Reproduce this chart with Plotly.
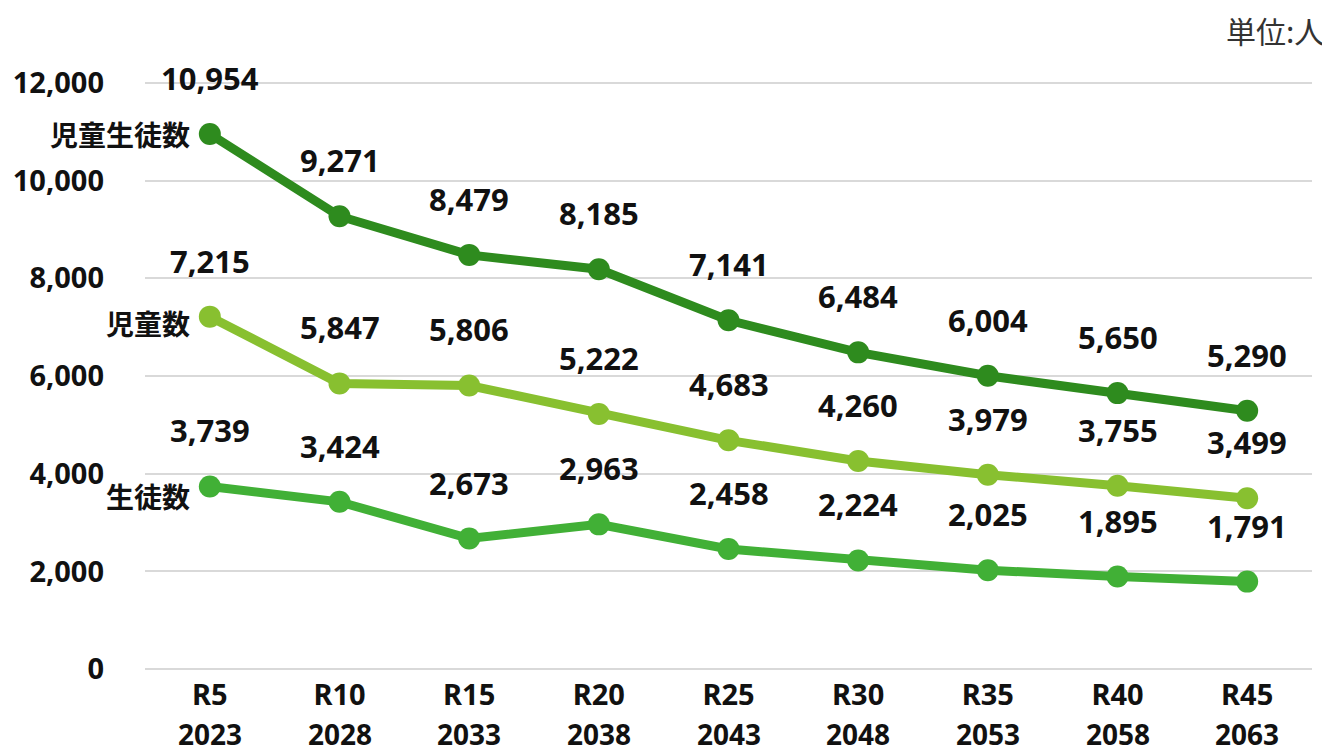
import plotly.graph_objects as go

categories = ["R5", "R10", "R15", "R20", "R25", "R30", "R35", "R40", "R45"]
years = ["2023", "2028", "2033", "2038", "2043", "2048", "2053", "2058", "2063"]
total = [10954, 9271, 8479, 8185, 7141, 6484, 6004, 5650, 5290]
children = [7215, 5847, 5806, 5222, 4683, 4260, 3979, 3755, 3499]
students = [3739, 3424, 2673, 2963, 2458, 2224, 2025, 1895, 1791]
series_names = ["児童生徒数", "児童数", "生徒数"]
colors = ["#2e8b1e", "#88c030", "#41b036"]
yticks = [0, 2000, 4000, 6000, 8000, 10000, 12000]

fig = go.Figure()
num_font = "Noto Sans, DejaVu Sans, sans-serif"
jp_font = "Noto Sans CJK JP, Noto Sans, sans-serif"

annotations = []
for name, vals, col, nshift in zip(series_names, [total, children, students], colors, [0, -6, -10]):
    fig.add_trace(go.Scatter(
        x=categories, y=vals, mode="lines+markers", name=name,
        line=dict(color=col, width=9),
        marker=dict(color=col, size=22),
        hoverinfo="x+y",
    ))
    for c, v in zip(categories, vals):
        annotations.append(dict(
            x=c, y=v, text=f"{v:,}", showarrow=False, yshift=56,
            font=dict(family=num_font, size=31, color="#111111", weight="bold"),
        ))
    annotations.append(dict(
        x=categories[0], y=vals[0], text=name, showarrow=False,
        xanchor="right", xshift=-18, yshift=nshift,
        font=dict(family=jp_font, size=28, color="#111111", weight="bold"),
    ))

for c, yr in zip(categories, years):
    annotations.append(dict(
        x=c, y=0, yref="paper", yanchor="middle", yshift=-60, text=yr, showarrow=False,
        font=dict(family=num_font, size=28, color="#111111", weight="bold"),
    ))

annotations.append(dict(
    x=1, xref="paper", xanchor="right", xshift=14, y=1, yref="paper", yanchor="middle", yshift=48,
    text="単位:人", showarrow=False,
    font=dict(family=jp_font, size=30, color="#333333"),
))

# page body has an 8px default margin, so the figure is 8px smaller each way
fig.update_layout(
    width=1322, height=746,
    margin=dict(l=137, r=18, t=70, b=80, autoexpand=False),
    paper_bgcolor="white", plot_bgcolor="white",
    showlegend=False,
    annotations=annotations,
    xaxis=dict(
        type="category", categoryorder="array", categoryarray=categories,
        range=[-0.5, 8.5],
        tickmode="array", tickvals=categories, ticktext=categories,
        tickfont=dict(family=num_font, size=29, color="#111111", weight="bold"),
        showgrid=False, zeroline=False, showline=False, ticks="",
        automargin=False, ticklabelstandoff=1,
    ),
    yaxis=dict(
        range=[-100, 12100], tickmode="array", tickvals=yticks,
        ticktext=[f"{t:,}" for t in yticks],
        tickfont=dict(family=num_font, size=29, color="#111111", weight="bold"),
        showgrid=True, gridcolor="#d9d9d9", gridwidth=2,
        zeroline=True, zerolinecolor="#d9d9d9", zerolinewidth=2,
        showline=False, ticks="", ticklabelstandoff=40,
        automargin=False,
    ),
)

fig.write_html("out.html")
